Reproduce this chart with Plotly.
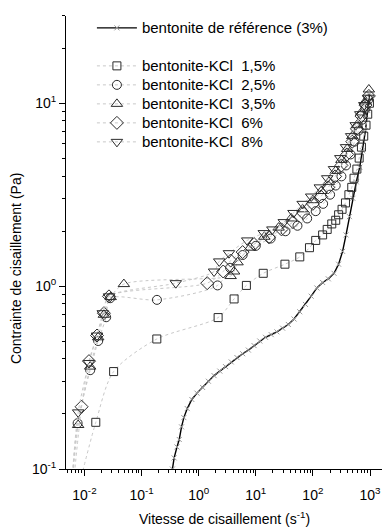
import plotly.graph_objects as go

# ---------------- data ----------------
ref_rate = [0.347, 0.372, 0.417, 0.457, 0.501, 0.550, 0.631, 0.759, 0.933, 1.175,
            1.479, 1.862, 2.344, 2.951, 3.715, 4.677, 5.888, 7.413, 9.333, 11.75,
            14.79, 18.62, 23.44, 29.51, 37.15, 46.77, 58.88, 74.13, 93.33, 117.5,
            147.9, 186.2, 234.4, 281.8, 331.1, 380.2, 436.5, 501.2, 575.4, 660.7,
            741.3, 831.8, 912.0, 977.2]
ref_stress = [0.100, 0.115, 0.132, 0.145, 0.170, 0.191, 0.214, 0.240, 0.260, 0.279,
              0.302, 0.324, 0.343, 0.363, 0.385, 0.407, 0.427, 0.447, 0.473, 0.501,
              0.525, 0.543, 0.562, 0.589, 0.617, 0.661, 0.724, 0.794, 0.881, 0.977,
              1.047, 1.096, 1.175, 1.318, 1.549, 1.905, 2.399, 3.020, 3.715, 4.467,
              5.495, 7.079, 9.120, 11.22]

kcl15_rate = [0.0066, 0.0158, 0.0324, 0.185, 2.19, 4.17, 6.85, 13.5, 32.4, 58.9,
              87.1, 112, 148, 178, 214, 251, 282, 324, 372, 427, 479, 525, 589,
              646, 708, 776, 851, 912, 977]
kcl15_stress = [0.063, 0.180, 0.341, 0.514, 0.673, 0.851, 1.009, 1.175, 1.318, 1.445,
                1.622, 1.778, 1.905, 2.042, 2.188, 2.291, 2.455, 2.630, 2.851, 3.162,
                3.467, 3.890, 4.365, 5.012, 5.754, 6.607, 7.586, 8.710, 10.0]

kcl25_rate = [0.0056, 0.00759, 0.0126, 0.0174, 0.0240, 0.0282, 0.186, 2.14, 3.55, 5.89,
              10.0, 18.2, 33.1, 53.7, 79.4, 112, 151, 200, 251, 316, 380, 457, 537,
              631, 724, 832, 933]
kcl25_stress = [0.060, 0.178, 0.347, 0.501, 0.676, 0.859, 0.841, 1.009, 1.259, 1.479,
                1.660, 1.820, 1.995, 2.138, 2.344, 2.570, 2.818, 3.162, 3.548, 3.981,
                4.571, 5.248, 6.166, 7.079, 8.128, 9.333, 10.47]

kcl35_rate = [0.0056, 0.00776, 0.0126, 0.0174, 0.0219, 0.0288, 0.049, 3.63, 4.17, 4.79,
              7.94, 14.1, 25.1, 41.7, 66.1, 100, 141, 191, 251, 316, 398, 490, 589,
              708, 832, 955]
kcl35_stress = [0.060, 0.174, 0.363, 0.525, 0.697, 0.871, 1.026, 1.135, 1.202, 1.349,
                1.622, 1.862, 2.089, 2.344, 2.630, 2.951, 3.311, 3.715, 4.266, 4.898,
                5.623, 6.607, 7.586, 8.913, 10.23, 11.89]

kcl6_rate = [0.0058, 0.00891, 0.0120, 0.0166, 0.0219, 0.0269, 1.41, 2.69, 3.63, 5.89,
             9.33, 17.0, 28.2, 44.7, 67.6, 100, 138, 186, 245, 316, 398, 490, 589,
             708, 832, 955]
kcl6_stress = [0.060, 0.219, 0.389, 0.537, 0.711, 0.879, 1.038, 1.202, 1.380, 1.535,
               1.698, 1.849, 2.042, 2.239, 2.512, 2.818, 3.090, 3.467, 3.981, 4.571,
               5.248, 6.166, 7.244, 8.511, 9.772, 10.96]

kcl8_rate = [0.0056, 0.00776, 0.0120, 0.0166, 0.0209, 0.0269, 0.398, 1.86, 2.29, 3.39,
             7.08, 13.8, 19.5, 30.9, 45.7, 66.1, 93.3, 132, 178, 234, 302, 380, 468,
             562, 676, 794, 933]
kcl8_stress = [0.060, 0.204, 0.380, 0.537, 0.711, 0.879, 1.038, 1.202, 1.365, 1.514,
               1.778, 1.950, 2.042, 2.239, 2.512, 2.818, 3.090, 3.467, 3.890, 4.365,
               5.012, 5.754, 6.607, 7.586, 8.710, 9.772, 10.72]

series_names = ["bentonite-KCl\u00a0 1,5%", "bentonite-KCl\u00a0 2,5%",
                "bentonite-KCl\u00a0 3,5%", "bentonite-KCl\u00a0 6%",
                "bentonite-KCl\u00a0 8%"]
ref_name = "bentonite de référence (3%)"

x_tickvals = [0.01, 0.1, 1, 10, 100, 1000]
x_ticktext = ["10<sup>-2</sup>", "10<sup>-1</sup>", "10<sup>0</sup>",
              "10<sup>1</sup>", "10<sup>2</sup>", "10<sup>3</sup>"]
y_tickvals = [0.1, 1, 10]
y_ticktext = ["10<sup>-1</sup>", "10<sup>0</sup>", "10<sup>1</sup>"]

# ---------------- figure ----------------
FONT = "Liberation Sans, Arial, sans-serif"
MARK = "#2a2a2a"
DOT = "#c8c8c8"


def leg(txt):
    return '<span style="font-size:15px">' + txt + '</span>'


fig = go.Figure()

fig.add_trace(go.Scatter(
    x=ref_rate, y=ref_stress, name=leg(ref_name), mode="lines+markers",
    legendgroup="ref",
    line=dict(color="black", width=1.4),
    marker=dict(symbol="x-thin", size=5, color="#999999",
                line=dict(color="#999999", width=1)),
))

kcl = [
    (kcl15_rate, kcl15_stress, "square-open", 8),
    (kcl25_rate, kcl25_stress, "circle-open", 9),
    (kcl35_rate, kcl35_stress, "triangle-up-open", 10),
    (kcl6_rate, kcl6_stress, "diamond-open", 10),
    (kcl8_rate, kcl8_stress, "triangle-down-open", 10),
]
for (xr, yr, sym, sz), nm in zip(kcl, series_names):
    fig.add_trace(go.Scatter(
        x=xr, y=yr, name=leg(nm), mode="lines+markers", legendgroup="kcl",
        line=dict(color=DOT, width=1, dash="dot", shape="spline", smoothing=0.8),
        marker=dict(symbol=sym, size=sz, color=MARK, line=dict(color=MARK, width=1)),
    ))

minor_x = [m * 10 ** e for e in range(-3, 4) for m in range(2, 10)]
minor_y = [m * 10 ** e for e in range(-2, 2) for m in range(2, 10)]

fig.update_layout(
    width=382, height=529,
    margin=dict(l=66, r=0, t=16, b=60),
    paper_bgcolor="white", plot_bgcolor="white",
    font=dict(family=FONT, color="black", size=14),
    showlegend=True,
    legend=dict(x=0.082, y=1.0058, xanchor="left", yanchor="top",
                bgcolor="rgba(0,0,0,0)", borderwidth=0,
                font=dict(family=FONT, size=12, color="black"),
                itemwidth=40, tracegroupgap=19, traceorder="grouped",
                itemclick=False),
    xaxis=dict(type="log", range=[-2.323, 3.21], showgrid=False, zeroline=False,
               showline=True, linecolor="black", linewidth=1,
               ticks="outside", ticklen=6, tickcolor="black", tickwidth=1,
               tickmode="array", tickvals=x_tickvals, ticktext=x_ticktext,
               tickfont=dict(family=FONT, size=14), ticklabelstandoff=7,
               minor=dict(ticks="outside", ticklen=3, tickcolor="black",
                          tickmode="array", tickvals=minor_x)),
    yaxis=dict(type="log", range=[-1, 1.477], showgrid=False, zeroline=False,
               showline=True, linecolor="black", linewidth=1,
               ticks="outside", ticklen=6, tickcolor="black", tickwidth=1,
               tickmode="array", tickvals=y_tickvals, ticktext=y_ticktext,
               tickfont=dict(family=FONT, size=14),
               minor=dict(ticks="outside", ticklen=3, tickcolor="black",
                          tickmode="array", tickvals=minor_y)),
    annotations=[
        dict(text="Contrainte de cisaillement (Pa)", xref="paper", yref="paper",
             x=-0.158, y=0.4415, xanchor="center", yanchor="middle",
             textangle=-90, showarrow=False, font=dict(family=FONT, size=14)),
        dict(text="Vitesse de cisaillement (s<sup>-1</sup>)", xref="paper", yref="paper",
             x=0.503, y=-0.108, xanchor="center", yanchor="middle",
             showarrow=False, font=dict(family=FONT, size=14)),
    ],
)

fig.write_html("out.html", config={"displayModeBar": False},
               post_script="document.body.style.margin='0px';")
